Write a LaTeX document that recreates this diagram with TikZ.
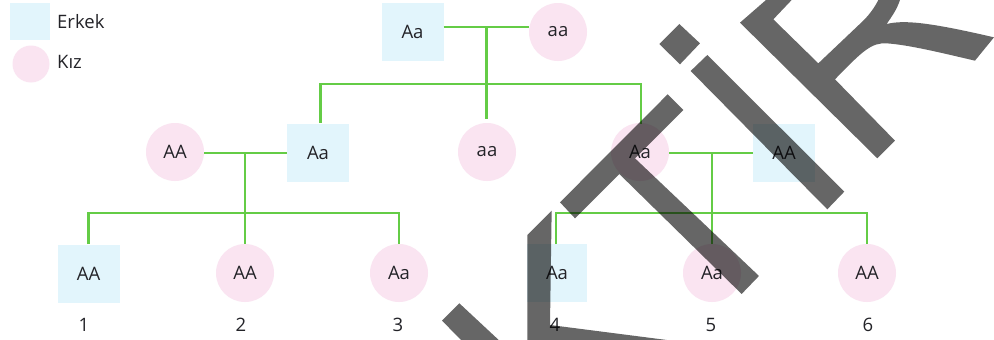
\documentclass[tikz,border=0pt]{standalone}
\usepackage{fontspec}
\setmainfont{Open Sans}
\definecolor{mblue}{RGB}{226,245,252}
\definecolor{fpink}{RGB}{250,228,241}
\definecolor{lgreen}{RGB}{100,204,70}
\definecolor{ink}{RGB}{35,35,40}
\newcommand{\geno}[1]{\raisebox{-1.8pt}{#1}}
\tikzset{
  male/.style={draw=none,fill=mblue,rectangle,minimum width=62pt,minimum height=58pt,inner sep=0pt,text=ink,font=\fontsize{18.5}{22}\selectfont},
  female/.style={draw=none,fill=fpink,circle,minimum size=58pt,inner sep=0pt,text=ink,font=\fontsize{18.5}{22}\selectfont},
  lbl/.style={text=ink,inner sep=0pt,font=\fontsize{18.5}{22}\selectfont},
  link/.style={draw=lgreen,line width=2.2pt},
  wm/.style={fill=black,fill opacity=.6,draw=none}
}
\begin{document}
\begin{tikzpicture}[x=1pt,y=-1pt]
\useasboundingbox (0,0) rectangle (994,340);
\fill[white] (0,0) rectangle (994,340);
% legend
\node[rectangle,fill=mblue,minimum width=40pt,minimum height=37pt,inner sep=0pt] (lm) at (30,21) {};
\node[circle,fill=fpink,minimum size=37pt,inner sep=0pt] (lf) at (31,64) {};
\node[lbl,anchor=west] (lmt) at (57,22) {Erkek};
\node[lbl,anchor=west] (lft) at (57,62) {Kız};
% people
\node[male] (g1m) at (412.5,32) {\geno{Aa}};
\node[female] (g1f) at (558,32) {\geno{aa}};
\node[female] (g2a) at (175,152) {\geno{AA}};
\node[male] (g2b) at (318,153) {\geno{Aa}};
\node[female] (g2c) at (487,152) {\geno{aa}};
\node[female] (g2d) at (640,152) {\geno{Aa}};
\node[male] (g2e) at (784,153) {\geno{AA}};
\node[male] (c1) at (88.5,274) {\geno{AA}};
\node[female] (c2) at (245,273) {\geno{AA}};
\node[female] (c3) at (399,273) {\geno{Aa}};
\node[male,minimum width=60pt] (c4) at (557,273) {\geno{Aa}};
\node[female] (c5) at (712,273) {\geno{Aa}};
\node[female] (c6) at (867,273) {\geno{AA}};
% numbers
\node[lbl] (n1) at (84,325) {1};
\node[lbl] (n2) at (241,325) {2};
\node[lbl] (n3) at (398,325) {3};
\node[lbl] (n4) at (555,325) {4};
\node[lbl] (n5) at (711,325) {5};
\node[lbl] (n6) at (868,325) {6};
% junction coordinates
\coordinate (j1) at (486.5,27);
\coordinate (e1) at (486.5,119);
\coordinate (t1) at (320.5,123);
\coordinate (t2) at (641,124);
\coordinate (b1) at (486.5,84);
\coordinate (j2) at (245,153);
\coordinate (b2) at (245,213);
\coordinate (j3) at (712,153);
\coordinate (b3) at (712,213);
\coordinate (d1) at (88.5,244);
\coordinate (d3) at (399,244);
\coordinate (d4) at (556,244);
\coordinate (d6) at (867,244);
% connectors
\draw[link] (g1m.east |- j1) -- (g1f.west |- j1);
\draw[link] (j1) -- (e1);
\draw[link] (t1) |- (b1) -| (t2);
\draw[link] (g2a.east |- j2) -- (g2b.west |- j2);
\draw[link] (j2) -- (c2.north);
\draw[link] (d1) |- (b2) -| (d3);
\draw[link] (g2d.east |- j3) -- (g2e.west |- j3);
\draw[link] (j3) -- (c5.north);
\draw[link] (d4) |- (b3) -| (d6);
% watermark, coordinates in units of the crops
\begin{scope}[shift={(500,0)},x=.3333pt,y=-.3333pt]
\fill[wm] (538,72) -- (600,130) -- (540,193) -- (478,132) -- cycle;
\fill[wm] (622,165) -- (1033,575) -- (982,628) -- (572,213) -- cycle;
\fill[wm] (503,283) -- (550,330) -- (405,475) -- (777,828) -- (725,882) -- (358,522) -- (225,655) -- (180,607) -- cycle;
\fill[wm] (82,705) -- (155,632) -- (150,975) -- (500,1020) -- (82,1020) -- cycle;
\fill[wm] (-122,910) -- (-174,962) -- (-117,1020) -- (-4,1020) -- cycle;
\end{scope}
\begin{scope}[shift={(730,0)},x=.3333pt,y=-.3333pt]
\fill[wm] (30,68) -- (108,0) -- (185,0) -- (130,58) -- (265,190) -- (400,62) .. controls (420,42) and (435,20) .. (445,0) -- (510,0) .. controls (500,30) and (485,50) .. (470,72) .. controls (520,60) and (590,65) .. (792,112) -- (735,182) .. controls (640,160) and (540,135) .. (470,130) .. controls (425,128) and (400,150) .. (315,238) -- (495,422) -- (442,475) -- cycle;
\end{scope}
\end{tikzpicture}
\end{document}
